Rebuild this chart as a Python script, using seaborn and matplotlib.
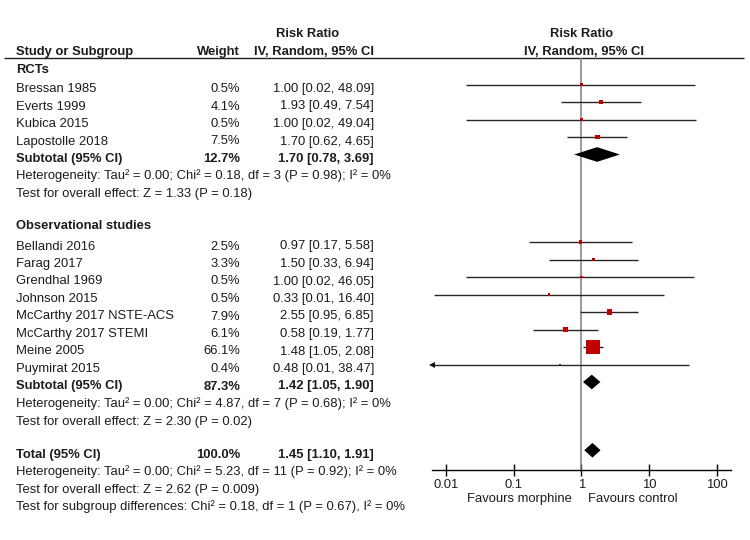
import numpy as np
import pandas as pd
import matplotlib
matplotlib.use("Agg")
import matplotlib.pyplot as plt
import seaborn as sns

# ---------------- data ----------------
rct_studies = ["Bressan 1985", "Everts 1999", "Kubica 2015", "Lapostolle 2018"]
rct_weight = [0.5, 4.1, 0.5, 7.5]
rct_rr = [1.00, 1.93, 1.00, 1.70]
rct_lo = [0.02, 0.49, 0.02, 0.62]
rct_hi = [48.09, 7.54, 49.04, 4.65]

obs_studies = ["Bellandi 2016", "Farag 2017", "Grendhal 1969", "Johnson 2015",
               "McCarthy 2017 NSTE-ACS", "McCarthy 2017 STEMI", "Meine 2005", "Puymirat 2015"]
obs_weight = [2.5, 3.3, 0.5, 0.5, 7.9, 6.1, 66.1, 0.4]
obs_rr = [0.97, 1.50, 1.00, 0.33, 2.55, 0.58, 1.48, 0.48]
obs_lo = [0.17, 0.33, 0.02, 0.0067, 0.95, 0.19, 1.05, 0.006]
obs_hi = [5.58, 6.94, 46.05, 16.40, 6.85, 1.77, 2.08, 38.47]

# pooled: [weight, rr, lo, hi]
rct_sub = [12.7, 1.70, 0.78, 3.69]
obs_sub = [87.3, 1.42, 1.05, 1.90]
total = [100.0, 1.45, 1.10, 1.91]

rct_stats = ["Heterogeneity: Tau² = 0.00; Chi² = 0.18, df = 3 (P = 0.98); I² = 0%",
             "Test for overall effect: Z = 1.33 (P = 0.18)"]
obs_stats = ["Heterogeneity: Tau² = 0.00; Chi² = 4.87, df = 7 (P = 0.68); I² = 0%",
             "Test for overall effect: Z = 2.30 (P = 0.02)"]
tot_stats = ["Heterogeneity: Tau² = 0.00; Chi² = 5.23, df = 11 (P = 0.92); I² = 0%",
             "Test for overall effect: Z = 2.62 (P = 0.009)",
             "Test for subgroup differences: Chi² = 0.18, df = 1 (P = 0.67), I² = 0%"]

tick_vals = [0.01, 0.1, 1, 10, 100]
tick_labels = ["0.01", "0.1", "1", "10", "100"]

# ---------------- layout ----------------
sns.set_theme(style="white")
plt.rcParams['font.family'] = ['Liberation Sans', 'DejaVu Sans']
FS = 9.4
TXT = "#1c1c1c"
RED = "#c00000"

W, H = 750, 540
fig = plt.figure(figsize=(7.5, 5.4), dpi=100)
axt = fig.add_axes([0, 0, 1, 1])
axt.set_xlim(0, W)
axt.set_ylim(H, 0)
axt.axis("off")

PITCH = 17.5
BASE0 = 92.0          # baseline of first study row
MARK_OFF = 7.5        # marks sit this many px above the text baseline

def base(idx):
    return BASE0 + PITCH * idx

X_NAME, X_W, X_CI = 16, 240, 374

def ci_str(rr, lo, hi):
    return f"{rr:.2f} [{lo:.2f}, {hi:.2f}]"

def row_text(idx, name, w, rr, lo, hi, bold=False):
    fw = "bold" if bold else "normal"
    y = base(idx)
    axt.text(X_NAME, y, name, fontsize=FS, color=TXT, ha="left", va="baseline", fontweight=fw)
    axt.text(X_W, y, f"{w:.1f}%", fontsize=FS, color=TXT, ha="right", va="baseline", fontweight=fw)
    axt.text(X_CI, y, ci_str(rr, lo, hi), fontsize=FS, color=TXT, ha="right", va="baseline", fontweight=fw)

def plain(idx, s, bold=False):
    axt.text(X_NAME, base(idx), s, fontsize=FS, color=TXT, ha="left", va="baseline",
             fontweight="bold" if bold else "normal")

# row indices
rct_idx = list(range(len(rct_studies)))
rct_sub_idx = len(rct_studies)
rct_stat_idx = [rct_sub_idx + 1 + i for i in range(len(rct_stats))]
obs_head_idx = rct_stat_idx[-1] + 1.85
obs_idx = [rct_stat_idx[-1] + 3 + i for i in range(len(obs_studies))]
obs_sub_idx = obs_idx[-1] + 1
obs_stat_idx = [obs_sub_idx + 1 + i for i in range(len(obs_stats))]
tot_idx = obs_stat_idx[-1] + 1.9
tot_stat_idx = [tot_idx + 1 + i for i in range(len(tot_stats))]

# headers
axt.text(307.5, 37, "Risk Ratio", fontsize=FS, color=TXT, ha="center", va="baseline", fontweight="bold")
axt.text(X_NAME, 54.7, "Study or Subgroup", fontsize=FS, color=TXT, ha="left", va="baseline", fontweight="bold")
axt.text(X_W, 54.7, "Weight", fontsize=FS, color=TXT, ha="right", va="baseline", fontweight="bold")
axt.text(X_CI, 54.7, "IV, Random, 95% CI", fontsize=FS, color=TXT, ha="right", va="baseline", fontweight="bold")
axt.text(582, 37, "Risk Ratio", fontsize=FS, color=TXT, ha="center", va="baseline", fontweight="bold")
axt.text(584, 54.7, "IV, Random, 95% CI", fontsize=FS, color=TXT, ha="center", va="baseline", fontweight="bold")
axt.plot([4, 744], [58.3, 58.3], color="#222222", lw=1.0, solid_capstyle="butt")

plain(-1.1, "RCTs", bold=True)
for i, n, w, r, l, h in zip(rct_idx, rct_studies, rct_weight, rct_rr, rct_lo, rct_hi):
    row_text(i, n, w, r, l, h)
row_text(rct_sub_idx, "Subtotal (95% CI)", *rct_sub, bold=True)
for i, s in zip(rct_stat_idx, rct_stats):
    plain(i, s)

plain(obs_head_idx, "Observational studies", bold=True)
for i, n, w, r, l, h in zip(obs_idx, obs_studies, obs_weight, obs_rr, obs_lo, obs_hi):
    row_text(i, n, w, r, l, h)
row_text(obs_sub_idx, "Subtotal (95% CI)", *obs_sub, bold=True)
for i, s in zip(obs_stat_idx, obs_stats):
    plain(i, s)

row_text(tot_idx, "Total (95% CI)", *total, bold=True)
for i, s in zip(tot_stat_idx, tot_stats):
    plain(i, s)

# ---------------- forest axes ----------------
PX_L, PX_R, PX_T, PX_B = 432, 731, 58.3, 470
axf = fig.add_axes([PX_L / W, (H - PX_B) / H, (PX_R - PX_L) / W, (PX_B - PX_T) / H])
axf.set_facecolor("none")
axf.set_xscale("log")
half = 2.207
xmin, xmax = 10 ** -half, 10 ** half
axf.set_xlim(xmin, xmax)
# y in row units, marks MARK_OFF px above baseline
y_bottom = (PX_B - (BASE0 - MARK_OFF)) / PITCH
y_top = (PX_T - (BASE0 - MARK_OFF)) / PITCH
axf.set_ylim(y_bottom, y_top)

axf.axvline(1, color="#7f7f7f", lw=1.1, zorder=1)

df = pd.DataFrame({
    "study": rct_studies + obs_studies,
    "weight": rct_weight + obs_weight,
    "rr": rct_rr + obs_rr,
    "lo": rct_lo + obs_lo,
    "hi": rct_hi + obs_hi,
    "row": rct_idx + obs_idx,
})

for _, r in df.iterrows():
    lo = max(r.lo, xmin)
    axf.plot([lo, r.hi], [r.row, r.row], color="#262626", lw=1.0, zorder=2,
             solid_capstyle="butt")
    if r.lo < xmin:
        axf.plot([xmin], [r.row], marker="<", color="#111111", ms=5, mew=0,
                 clip_on=False, zorder=3)

sns.scatterplot(data=df, x="rr", y="row", size="weight", sizes=(2, 100),
                size_norm=(0.4, 66.1), marker="s", color=RED, linewidth=0,
                legend=False, ax=axf, zorder=4)

def diamond(row, rr, lo, hi, hh=0.42):
    axf.fill([lo, rr, hi, rr], [row, row - hh, row, row + hh], color="black", lw=0, zorder=5)

diamond(rct_sub_idx, *rct_sub[1:])
diamond(obs_sub_idx, *obs_sub[1:])
diamond(tot_idx, *total[1:])

for s in ["top", "left", "right"]:
    axf.spines[s].set_visible(False)
axf.spines["bottom"].set_color("black")
axf.spines["bottom"].set_linewidth(1.0)
axf.set_yticks([])
axf.set_xticks(tick_vals)
axf.set_xticklabels(tick_labels)
axf.minorticks_off()
axf.tick_params(axis="x", direction="inout", length=8, width=1, colors="black",
                labelcolor=TXT, labelsize=FS, pad=2.5, bottom=True)
axf.set_xlabel("")
axf.set_ylabel("")

axt.text(572, 502, "Favours morphine", fontsize=FS, color=TXT, ha="right", va="baseline")
axt.text(588, 502, "Favours control", fontsize=FS, color=TXT, ha="left", va="baseline")

fig.savefig("out.png", dpi=100)
